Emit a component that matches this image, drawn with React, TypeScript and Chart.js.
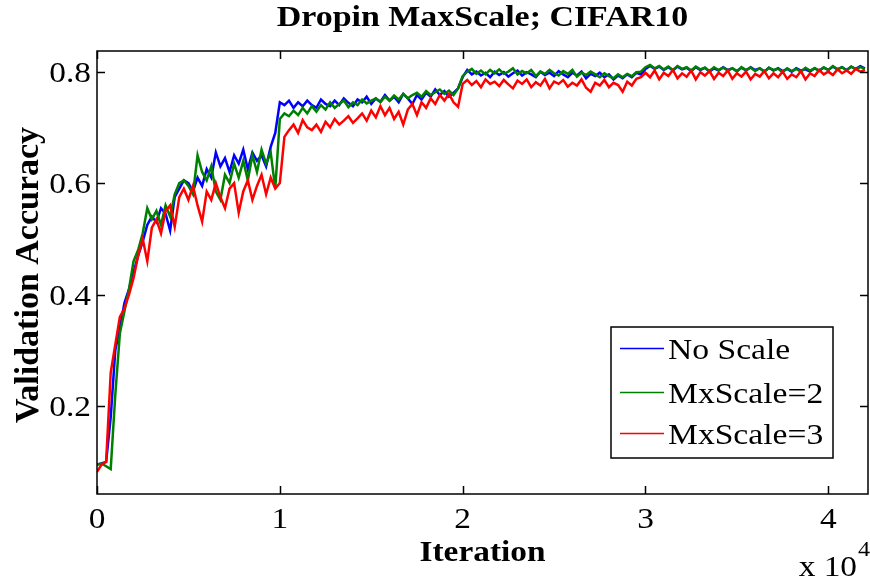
import React, { useEffect, useRef } from "react";
import { Chart, registerables } from "chart.js";

Chart.register(...registerables);

// Validation accuracy sampled every 250 iterations (0 … 42000), one row per 2000 iterations.
const STEP = 250;

const noScale = [
  0.095, 0.097, 0.100, 0.180, 0.300, 0.340, 0.385, 0.410,
  0.440, 0.470, 0.495, 0.525, 0.540, 0.530, 0.555, 0.545,
  0.515, 0.575, 0.590, 0.605, 0.600, 0.585, 0.610, 0.595,
  0.625, 0.610, 0.655, 0.630, 0.645, 0.620, 0.650, 0.635,
  0.660, 0.625, 0.655, 0.640, 0.650, 0.630, 0.665, 0.690,
  0.745, 0.740, 0.748, 0.735, 0.745, 0.738, 0.748, 0.740,
  0.735, 0.750, 0.742, 0.738, 0.748, 0.740, 0.752, 0.744,
  0.738, 0.750, 0.745, 0.755, 0.742, 0.752, 0.746, 0.758,
  0.748, 0.755, 0.745, 0.760, 0.752, 0.742, 0.758, 0.750,
  0.762, 0.755, 0.768, 0.758, 0.765, 0.755, 0.762, 0.770,
  0.790, 0.803, 0.795, 0.800, 0.793, 0.798, 0.790, 0.800,
  0.794, 0.799, 0.791, 0.797, 0.802, 0.793, 0.799, 0.795,
  0.790, 0.800, 0.794, 0.798, 0.792, 0.801, 0.795, 0.790,
  0.798, 0.793, 0.800, 0.788, 0.796, 0.792, 0.798, 0.790,
  0.795, 0.786, 0.793, 0.788, 0.795, 0.790, 0.798, 0.795,
  0.805, 0.810, 0.805, 0.809, 0.803, 0.808, 0.802, 0.809,
  0.804, 0.807, 0.801, 0.808, 0.803, 0.807, 0.800, 0.806,
  0.802, 0.808, 0.803, 0.806, 0.801, 0.807, 0.802, 0.808,
  0.803, 0.806, 0.800, 0.807, 0.802, 0.806, 0.801, 0.805,
  0.800, 0.806, 0.802, 0.804, 0.800, 0.806, 0.802, 0.807,
  0.803, 0.809, 0.804, 0.808, 0.803, 0.809, 0.805, 0.810,
  0.806,
];

const mxScale2 = [
  0.095, 0.097, 0.092, 0.087, 0.220, 0.330, 0.370, 0.410,
  0.460, 0.480, 0.510, 0.555, 0.535, 0.550, 0.525, 0.560,
  0.540, 0.580, 0.600, 0.605, 0.595, 0.580, 0.650, 0.620,
  0.605, 0.630, 0.585, 0.570, 0.615, 0.600, 0.635, 0.610,
  0.640, 0.605, 0.650, 0.620, 0.660, 0.635, 0.655, 0.590,
  0.715, 0.725, 0.720, 0.730, 0.722, 0.735, 0.725, 0.738,
  0.728, 0.740, 0.732, 0.745, 0.735, 0.742, 0.748, 0.736,
  0.745, 0.740, 0.750, 0.743, 0.748, 0.752, 0.745, 0.755,
  0.748, 0.757, 0.750, 0.760, 0.752, 0.758, 0.762, 0.755,
  0.765, 0.758, 0.763, 0.768, 0.760, 0.766, 0.758, 0.770,
  0.792, 0.800, 0.805, 0.796, 0.802, 0.795, 0.803, 0.797,
  0.804, 0.796, 0.800, 0.806, 0.795, 0.801, 0.797, 0.803,
  0.792, 0.800, 0.796, 0.803, 0.797, 0.793, 0.801, 0.796,
  0.803, 0.791, 0.798, 0.794, 0.800, 0.795, 0.790, 0.797,
  0.792, 0.788, 0.795, 0.790, 0.796, 0.792, 0.799, 0.800,
  0.808, 0.812, 0.806, 0.810, 0.804, 0.809, 0.803, 0.810,
  0.805, 0.808, 0.802, 0.809, 0.804, 0.807, 0.801, 0.808,
  0.803, 0.807, 0.802, 0.806, 0.800, 0.808, 0.803, 0.807,
  0.801, 0.806, 0.800, 0.807, 0.803, 0.805, 0.799, 0.806,
  0.801, 0.805, 0.800, 0.807, 0.802, 0.806, 0.801, 0.808,
  0.803, 0.810, 0.804, 0.808, 0.802, 0.809, 0.804, 0.808,
  0.805,
];

const mxScale3 = [
  0.082, 0.095, 0.100, 0.260, 0.310, 0.360, 0.375, 0.400,
  0.430, 0.470, 0.500, 0.460, 0.520, 0.535, 0.510, 0.550,
  0.560, 0.522, 0.575, 0.590, 0.570, 0.595, 0.560, 0.531,
  0.585, 0.570, 0.600, 0.575, 0.555, 0.590, 0.600, 0.547,
  0.585, 0.605, 0.570, 0.595, 0.615, 0.580, 0.610, 0.590,
  0.600, 0.683, 0.695, 0.705, 0.690, 0.713, 0.700, 0.695,
  0.705, 0.692, 0.710, 0.700, 0.715, 0.705, 0.712, 0.720,
  0.708, 0.716, 0.725, 0.712, 0.730, 0.718, 0.738, 0.722,
  0.735, 0.715, 0.728, 0.705, 0.732, 0.742, 0.722, 0.745,
  0.735, 0.752, 0.742, 0.758, 0.748, 0.760, 0.745, 0.737,
  0.778, 0.785, 0.776, 0.783, 0.772, 0.786, 0.778, 0.782,
  0.774, 0.785, 0.777, 0.770, 0.784, 0.778, 0.786, 0.772,
  0.781, 0.775, 0.787, 0.770, 0.782, 0.778, 0.785, 0.773,
  0.780, 0.775, 0.786, 0.771, 0.764, 0.780, 0.775, 0.785,
  0.772, 0.780, 0.776, 0.764, 0.782, 0.775, 0.787, 0.790,
  0.798, 0.790, 0.802, 0.786, 0.798, 0.792, 0.803, 0.788,
  0.797, 0.791, 0.802, 0.786, 0.799, 0.793, 0.801, 0.787,
  0.798, 0.792, 0.802, 0.787, 0.797, 0.791, 0.800, 0.786,
  0.796, 0.791, 0.801, 0.788, 0.797, 0.790, 0.800, 0.787,
  0.795, 0.790, 0.801, 0.786, 0.797, 0.792, 0.803, 0.795,
  0.800, 0.794, 0.804, 0.797, 0.802, 0.796, 0.805, 0.800,
  0.803,
];

const seriesLabels = ["No Scale", "MxScale=2", "MxScale=3"];
const seriesColors = ["#0000ff", "#008000", "#ff0000"];

const xTickValues = [0, 10000, 20000, 30000, 40000];
const xTickLabels = ["0", "1", "2", "3", "4"];
const yTickValues = [0.2, 0.4, 0.6, 0.8];
const yTickLabels = ["0.2", "0.4", "0.6", "0.8"];

const X_MAX = 42170;
const Y_MIN = 0.0423;
const Y_MAX = 0.837;

const W = 870;
const H = 583;
const SERIF = '"Liberation Serif", "Times New Roman", serif';
const SX = 1.15; // glyphs are drawn a little wide

function drawText(
  ctx: CanvasRenderingContext2D,
  text: string,
  x: number,
  y: number,
  font: string,
  align: CanvasTextAlign,
  baseline: CanvasTextBaseline,
  sx = SX
) {
  ctx.save();
  ctx.translate(x, y);
  ctx.scale(sx, 1);
  ctx.font = font;
  ctx.fillStyle = "#000";
  ctx.textAlign = align;
  ctx.textBaseline = baseline;
  ctx.fillText(text, 0, 0);
  ctx.restore();
}

const frame = {
  id: "matlabFrame",
  afterDraw(chart: any) {
    const { ctx, chartArea: a, scales } = chart;
    const xs = scales.x;
    const ys = scales.y;
    const tick = 8;

    ctx.save();
    ctx.strokeStyle = "#000";
    ctx.lineWidth = 1.5;
    ctx.strokeRect(a.left, a.top, a.right - a.left, a.bottom - a.top);

    ctx.beginPath();
    xTickValues.forEach((v) => {
      const px = Math.round(xs.getPixelForValue(v)) + 0.5;
      ctx.moveTo(px, a.bottom);
      ctx.lineTo(px, a.bottom - tick);
      ctx.moveTo(px, a.top);
      ctx.lineTo(px, a.top + tick);
    });
    yTickValues.forEach((v) => {
      const py = Math.round(ys.getPixelForValue(v)) + 0.5;
      ctx.moveTo(a.left, py);
      ctx.lineTo(a.left + tick, py);
      ctx.moveTo(a.right, py);
      ctx.lineTo(a.right - tick, py);
    });
    ctx.stroke();
    ctx.restore();

    const tickFont = `29px ${SERIF}`;
    xTickValues.forEach((v, i) => {
      drawText(ctx, xTickLabels[i], xs.getPixelForValue(v), a.bottom + 34, tickFont, "center", "alphabetic");
    });
    yTickValues.forEach((v, i) => {
      drawText(ctx, yTickLabels[i], a.left - 6, ys.getPixelForValue(v) + 10, tickFont, "right", "alphabetic");
    });

    // exponent note under the x axis
    drawText(ctx, "x 10", 857, 576, tickFont, "right", "alphabetic");
    drawText(ctx, "4", 858, 556, `21px ${SERIF}`, "left", "alphabetic");

    // title and axis labels
    const cx = (a.left + a.right) / 2;
    drawText(ctx, "Dropin MaxScale; CIFAR10", cx, 26, `bold 29px ${SERIF}`, "center", "alphabetic", 1.17);
    drawText(ctx, "Iteration", cx, 561, `bold 29px ${SERIF}`, "center", "alphabetic");

    ctx.save();
    ctx.translate(38, 275);
    ctx.rotate(-Math.PI / 2);
    ctx.font = `bold 34px ${SERIF}`;
    ctx.fillStyle = "#000";
    ctx.textAlign = "center";
    ctx.textBaseline = "alphabetic";
    ctx.fillText("Validation Accuracy", 0, 0);
    ctx.restore();

    // legend box
    const lx = 611, ly = 327, lw = 222, lh = 131;
    ctx.save();
    ctx.fillStyle = "#fff";
    ctx.fillRect(lx, ly, lw, lh);
    ctx.strokeStyle = "#000";
    ctx.lineWidth = 1.5;
    ctx.strokeRect(lx, ly, lw, lh);
    const rows = [348, 392, 433];
    seriesLabels.forEach((label, i) => {
      ctx.strokeStyle = seriesColors[i];
      ctx.lineWidth = 1.4;
      ctx.beginPath();
      ctx.moveTo(620, rows[i] + 0.5);
      ctx.lineTo(664, rows[i] + 0.5);
      ctx.stroke();
      drawText(ctx, label, 668, rows[i] + 11, `30px ${SERIF}`, "left", "alphabetic", 1.12);
    });
    ctx.restore();
  },
};

export default function App() {
  const ref = useRef<HTMLCanvasElement | null>(null);

  useEffect(() => {
    if (!ref.current) return;
    const iterations = noScale.map((_, i) => i * STEP);
    const toPoints = (vals: number[]) => vals.map((y, i) => ({ x: iterations[i], y }));
    const all = [noScale, mxScale2, mxScale3];

    const chart = new Chart(ref.current, {
      type: "line",
      data: {
        datasets: all.map((vals, i) => ({
          label: seriesLabels[i],
          data: toPoints(vals),
          borderColor: seriesColors[i],
          backgroundColor: seriesColors[i],
          borderWidth: 2.5,
          pointRadius: 0,
          tension: 0,
          fill: false,
          order: 2 - i,
        })),
      },
      options: {
        responsive: false,
        animation: false,
        events: [],
        layout: { padding: { top: 51, right: 2, left: 0, bottom: 0 } },
        plugins: {
          legend: { display: false },
          title: { display: false },
          tooltip: { enabled: false },
        },
        scales: {
          x: {
            type: "linear",
            min: 0,
            max: X_MAX,
            grid: { display: false },
            border: { display: false },
            ticks: { display: false },
            afterFit: (s: any) => {
              s.height = 89;
            },
          },
          y: {
            type: "linear",
            min: Y_MIN,
            max: Y_MAX,
            grid: { display: false },
            border: { display: false },
            ticks: { display: false },
            afterFit: (s: any) => {
              s.width = 97;
            },
          },
        },
      },
      plugins: [frame],
    });
    return () => chart.destroy();
  }, []);

  return (
    <div style={{ position: "fixed", left: 0, top: 0, width: W, height: H, background: "#fff" }}>
      <canvas ref={ref} width={W} height={H} style={{ width: W, height: H, display: "block" }} />
    </div>
  );
}
